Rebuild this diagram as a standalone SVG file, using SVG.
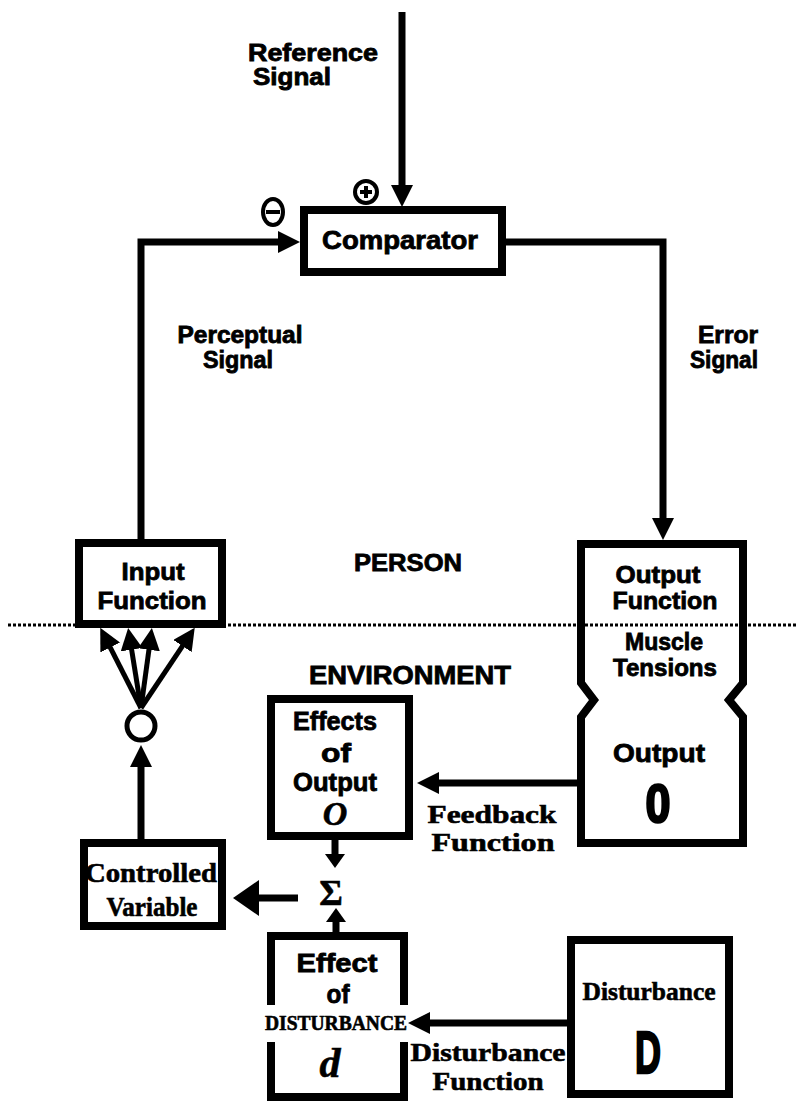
<svg xmlns="http://www.w3.org/2000/svg" width="797" height="1102" viewBox="0 0 797 1102">
<style>
.bg{fill:#fff}
.box{fill:#fff;stroke:#000;stroke-width:8}
.ln{fill:none;stroke:#000;stroke-width:7}
.lt{fill:none;stroke:#000;stroke-width:5}
.h{font-family:"Liberation Sans",Arial,sans-serif;font-weight:bold;fill:#000;stroke:#000;stroke-width:0.8;text-anchor:middle}
.s{font-family:"Liberation Serif","Times New Roman",serif;font-weight:bold;fill:#000;stroke:#000;stroke-width:0.6;text-anchor:middle}
.big{stroke-width:2.5}
.dot{fill:none;stroke:#000;stroke-width:3;stroke-dasharray:3 2}
</style>
<defs>
<marker id="arr" markerUnits="userSpaceOnUse" viewBox="0 0 22 22" markerWidth="22" markerHeight="22" refX="2" refY="11" orient="auto"><path d="M0,0 L22,11 L0,22 Z" fill="#000"/></marker>
<marker id="arrB" markerUnits="userSpaceOnUse" viewBox="0 0 26 36" markerWidth="26" markerHeight="36" refX="2" refY="18" orient="auto"><path d="M0,0 L26,18 L0,36 Z" fill="#000"/></marker>
<marker id="arrS" markerUnits="userSpaceOnUse" viewBox="0 0 14 20" markerWidth="14" markerHeight="20" refX="2" refY="10" orient="auto"><path d="M0,0 L14,10 L0,20 Z" fill="#000"/></marker>
</defs>
<rect class="bg" x="0" y="0" width="797" height="1102"/>

<line class="dot" x1="8" y1="625" x2="797" y2="625"/>

<g id="connectors">
<path class="ln" d="M402,12 V187" marker-end="url(#arr)"/>
<path class="ln" d="M141,540 V242 H280" marker-end="url(#arr)"/>
<path class="ln" d="M502,242 H663 V520" marker-end="url(#arr)"/>
<path class="ln" d="M141,839 V765" marker-end="url(#arr)"/>
<path class="lt" d="M141,708 L109.3,645.7" marker-end="url(#arr)"/>
<path class="lt" d="M141,708 L131.3,647.7" marker-end="url(#arr)"/>
<path class="lt" d="M141,708 L149.2,647.8" marker-end="url(#arr)"/>
<path class="lt" d="M141,708 L183.6,644.4" marker-end="url(#arr)"/>
<path class="ln" d="M578,783 H437" marker-end="url(#arr)"/>
<path class="ln" d="M568,1023 H428" marker-end="url(#arr)"/>
<path class="ln" d="M298,898 H257" marker-end="url(#arrB)"/>
<path class="ln" d="M335,840 V856" marker-end="url(#arrS)"/>
<path class="ln" d="M336,935 V920" marker-end="url(#arrS)"/>
<path class="lt" d="M655,683 V716" marker-end="url(#arrS)"/>
</g>

<g id="reference-label">
<text class="h" x="313" y="61" font-size="23" textLength="130" lengthAdjust="spacingAndGlyphs">Reference</text>
<text class="h" x="292" y="85" font-size="23" textLength="78" lengthAdjust="spacingAndGlyphs">Signal</text>
</g>

<g id="signs">
<circle cx="366" cy="192" r="11" fill="#fff" stroke="#000" stroke-width="4"/>
<path d="M366,186 V198 M360,192 H372" stroke="#000" stroke-width="4"/>
<ellipse cx="273" cy="212" rx="10" ry="13" fill="#fff" stroke="#000" stroke-width="4"/>
<path d="M266,212 H280" stroke="#000" stroke-width="4"/>
</g>

<g id="comparator">
<rect class="box" x="304" y="210" width="198" height="62"/>
<text class="h" x="400" y="249" font-size="25" textLength="156" lengthAdjust="spacingAndGlyphs">Comparator</text>
</g>

<g id="perceptual-label">
<text class="h" x="240" y="343" font-size="23" textLength="125" lengthAdjust="spacingAndGlyphs">Perceptual</text>
<text class="h" x="238" y="368" font-size="23" textLength="70" lengthAdjust="spacingAndGlyphs">Signal</text>
</g>

<g id="error-label">
<text class="h" x="728" y="343" font-size="23" textLength="60" lengthAdjust="spacingAndGlyphs">Error</text>
<text class="h" x="724" y="368" font-size="23" textLength="68" lengthAdjust="spacingAndGlyphs">Signal</text>
</g>

<g id="input-function">
<rect class="box" x="79" y="543" width="143" height="81"/>
<text class="h" x="153" y="580" font-size="24" textLength="63" lengthAdjust="spacingAndGlyphs">Input</text>
<text class="h" x="152" y="609" font-size="24" textLength="109" lengthAdjust="spacingAndGlyphs">Function</text>
</g>

<g id="person-label">
<text class="h" x="408" y="571" font-size="24" textLength="108" lengthAdjust="spacingAndGlyphs">PERSON</text>
</g>

<g id="environment-label">
<text class="h" x="410" y="684" font-size="26" textLength="202" lengthAdjust="spacingAndGlyphs">ENVIRONMENT</text>
</g>

<g id="output-function">
<path class="box" d="M581,544 H743 V683 L729,700 L743,717 V843 H581 V717 L594,700 L581,683 Z"/>
<line class="dot" x1="585" y1="625" x2="739" y2="625"/>
<text class="h" x="658" y="583" font-size="24" textLength="85" lengthAdjust="spacingAndGlyphs">Output</text>
<text class="h" x="665" y="609" font-size="24" textLength="105" lengthAdjust="spacingAndGlyphs">Function</text>
<text class="h" x="664" y="650" font-size="24" textLength="78" lengthAdjust="spacingAndGlyphs">Muscle</text>
<text class="h" x="665" y="676" font-size="24" textLength="104" lengthAdjust="spacingAndGlyphs">Tensions</text>
<text class="h" x="659" y="762" font-size="26" textLength="92" lengthAdjust="spacingAndGlyphs">Output</text>
<text class="h big" x="658" y="822" font-size="54" textLength="25" lengthAdjust="spacingAndGlyphs">0</text>
</g>

<g id="effects-of-output">
<rect class="box" x="271" y="699" width="138" height="137"/>
<text class="h" x="335" y="730" font-size="26" textLength="84" lengthAdjust="spacingAndGlyphs">Effects</text>
<text class="h" x="336" y="762" font-size="26" textLength="30" lengthAdjust="spacingAndGlyphs">of</text>
<text class="h" x="335" y="791" font-size="26" textLength="84" lengthAdjust="spacingAndGlyphs">Output</text>
<text class="s" x="335" y="825" font-size="34" font-style="italic">O</text>
</g>

<g id="feedback-label">
<text class="s" x="492" y="823" font-size="26" textLength="129" lengthAdjust="spacingAndGlyphs">Feedback</text>
<text class="s" x="493" y="851" font-size="26" textLength="123" lengthAdjust="spacingAndGlyphs">Function</text>
</g>

<g id="controlled-variable">
<rect class="box" x="84" y="843" width="138" height="83"/>
<text class="s" x="151" y="882" font-size="27" textLength="132" lengthAdjust="spacingAndGlyphs">Controlled</text>
<text class="s" x="152" y="916" font-size="27" textLength="91" lengthAdjust="spacingAndGlyphs">Variable</text>
</g>

<g id="sum">
<text class="s" x="331" y="905" font-size="36">Σ</text>
</g>

<g id="effect-of-disturbance">
<path class="box" d="M271,1005 V936 H404 V1005 M271,1042 V1097 H404 V1042" fill="none"/>
<text class="h" x="337" y="972" font-size="26" textLength="81" lengthAdjust="spacingAndGlyphs">Effect</text>
<text class="h" x="338" y="1003" font-size="26" textLength="23" lengthAdjust="spacingAndGlyphs">of</text>
<text class="s" x="336" y="1030" font-size="20" textLength="142" lengthAdjust="spacingAndGlyphs">DISTURBANCE</text>
<text class="s" x="330" y="1077" font-size="42" font-style="italic">d</text>
</g>

<g id="disturbance-label">
<text class="s" x="488" y="1061" font-size="26" textLength="155" lengthAdjust="spacingAndGlyphs">Disturbance</text>
<text class="s" x="488" y="1090" font-size="26" textLength="111" lengthAdjust="spacingAndGlyphs">Function</text>
</g>

<g id="disturbance">
<rect class="box" x="571" y="940" width="158" height="154"/>
<text class="s" x="649" y="1000" font-size="26" textLength="133" lengthAdjust="spacingAndGlyphs">Disturbance</text>
<text class="h big" x="648" y="1073" font-size="60" textLength="26" lengthAdjust="spacingAndGlyphs">D</text>
</g>

<g id="summing-circle">
<circle cx="141" cy="726" r="14" fill="#fff" stroke="#000" stroke-width="5"/>
</g>
</svg>
